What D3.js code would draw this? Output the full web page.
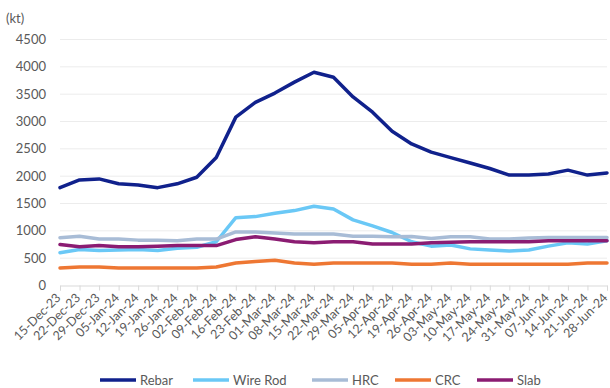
<!DOCTYPE html>
<html>
<head>
<meta charset="utf-8">
<script src="https://cdn.jsdelivr.net/npm/d3@7"></script>
<style>
  body { margin: 0; background: #fff; }
  text { font-family: Lato, "Open Sans", sans-serif; fill: #595959; }
</style>
</head>
<body>
<div id="chart"></div>
<script>
// weekly dates
const dates = ["15-Dec-23","22-Dec-23","29-Dec-23","05-Jan-24","12-Jan-24","19-Jan-24","26-Jan-24",
  "02-Feb-24","09-Feb-24","16-Feb-24","23-Feb-24","01-Mar-24","08-Mar-24","15-Mar-24","22-Mar-24",
  "29-Mar-24","05-Apr-24","12-Apr-24","19-Apr-24","26-Apr-24","03-May-24","10-May-24","17-May-24",
  "24-May-24","31-May-24","07-Jun-24","14-Jun-24","21-Jun-24","28-Jun-24"];

const rebar = [1790,1930,1950,1860,1840,1790,1860,1980,2340,3080,3350,3520,3720,3900,3810,
  3450,3170,2820,2590,2440,2340,2240,2140,2020,2020,2040,2110,2020,2060];
const wireRod = [600,660,640,650,660,640,680,700,800,1240,1260,1320,1370,1450,1400,
  1200,1090,970,800,720,740,670,650,630,650,720,780,760,820];
const hrc = [875,900,850,850,830,830,820,850,850,980,980,960,940,940,940,
  900,900,890,895,860,890,890,850,850,870,880,880,880,880];
const crc = [320,340,340,320,320,320,320,320,340,410,440,460,410,390,410,
  410,410,410,390,390,410,390,390,390,390,390,390,410,410];
const slab = [750,710,730,710,710,720,730,730,730,840,890,850,800,780,800,
  800,760,760,760,780,790,800,800,800,800,820,820,820,820];

const yTicks = [0,500,1000,1500,2000,2500,3000,3500,4000,4500];

const series = [
  {name: "Rebar", values: rebar, color: "#10218c"},
  {name: "Wire Rod", values: wireRod, color: "#6ac8f6"},
  {name: "HRC", values: hrc, color: "#a8bcd6"},
  {name: "CRC", values: crc, color: "#ee7733"},
  {name: "Slab", values: slab, color: "#8b1c72"}
];

const width = 610, height = 388;
const svg = d3.select("#chart").append("svg")
  .attr("width", width)
  .attr("height", height);

const x = d3.scalePoint().domain(dates).range([60, 607]);
const y = d3.scaleLinear().domain([0, 4500]).range([285.5, 39.5]);

// gridlines
svg.selectAll("line.grid")
  .data(yTicks.filter(d => d > 0))
  .enter().append("line")
  .attr("class", "grid")
  .attr("x1", 60).attr("x2", 607)
  .attr("y1", d => y(d)).attr("y2", d => y(d))
  .style("stroke", "#ececec")
  .style("stroke-width", 1);

// y labels
svg.selectAll("text.ylab")
  .data(yTicks)
  .enter().append("text")
  .attr("class", "ylab")
  .attr("x", 46)
  .attr("y", d => y(d) + 4.5)
  .attr("text-anchor", "end")
  .style("font-size", "13px")
  .text(d => d);

svg.append("text")
  .attr("x", 6).attr("y", 23)
  .style("font-size", "13px")
  .text("(kt)");

// x axis
const xAxis = d3.axisBottom(x).tickSize(5).tickFormat(d => d);
const gx = svg.append("g")
  .attr("transform", `translate(0,${y(0)})`)
  .call(xAxis);
gx.select(".domain").style("stroke", "#d9d9d9");
gx.selectAll(".tick line").style("stroke", "#d9d9d9");
gx.selectAll(".tick text")
  .attr("text-anchor", "end")
  .attr("dx", 0).attr("dy", 0)
  .attr("y", 0)
  .attr("transform", "translate(1,13) rotate(-45)")
  .style("font-size", "12.5px")
  .style("fill", "#595959");

// lines
const line = d3.line()
  .x((d, i) => x(dates[i]))
  .y(d => y(d));

svg.selectAll("path.series")
  .data(series)
  .enter().append("path")
  .attr("class", "series")
  .attr("d", d => line(d.values))
  .style("fill", "none")
  .style("stroke", d => d.color)
  .style("stroke-width", 3.5)
  .style("stroke-linejoin", "round")
  .style("stroke-linecap", "round");

// legend
const legendX = [100, 193, 312, 395, 477];
const lg = svg.selectAll("g.legend")
  .data(series)
  .enter().append("g")
  .attr("class", "legend")
  .attr("transform", (d, i) => `translate(${legendX[i]},380)`);
lg.append("line")
  .attr("x1", 0).attr("x2", 36)
  .attr("y1", 0).attr("y2", 0)
  .style("stroke", d => d.color)
  .style("stroke-width", 3.5);
lg.append("text")
  .attr("x", 40).attr("y", 4.5)
  .style("font-size", "13px")
  .text(d => d.name);
</script>
</body>
</html>
